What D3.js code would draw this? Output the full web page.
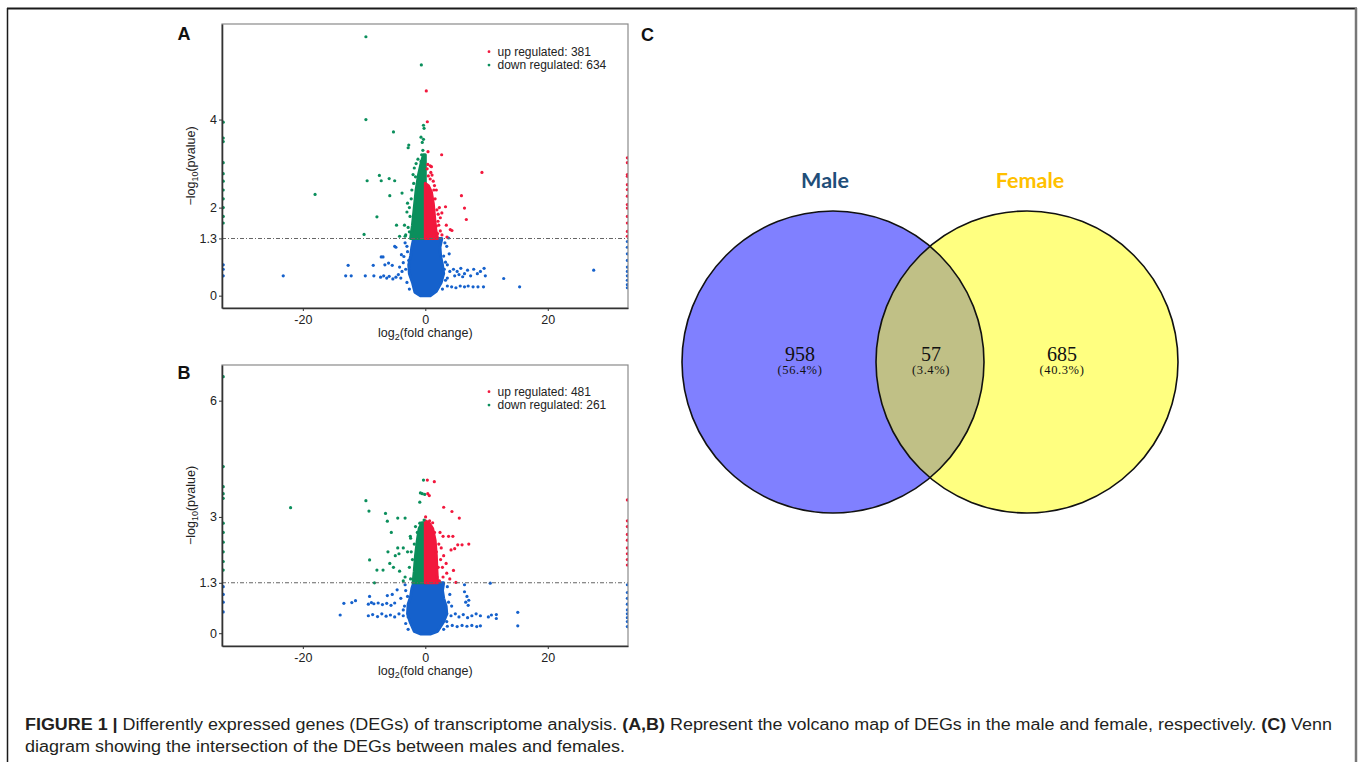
<!doctype html>
<html>
<head>
<meta charset="utf-8">
<title>Figure 1 - DEGs volcano plots and Venn diagram</title>
<script src="https://d3js.org/d3.v7.min.js"></script>
<style>
  body { margin: 0; background: #fff; }
  svg text { font-family: "Liberation Sans", Arial, Helvetica, sans-serif; }
</style>
</head>
<body>
<div id="plot"></div>
<script>
// ---- data ----
// panel A (male): scattered points [log2FC, -log10 p]
const upA = [[0.16,4.65],[0.33,3.95],[0.44,3.27],[2.67,3.2],[9.25,2.8],[0.4,2.98],[0.8,2.95],[1.0,2.93],[0.3,2.88],
  [0.5,2.72],[1.1,2.74],[0.8,2.65],[5.9,2.27],[6.4,1.99],[6.7,1.73],[3.3,2.02],[2.7,1.88],[2.45,1.77],[2.07,1.69],
  [1.8,1.58],[3.43,1.6],[4.08,1.5],[4.35,1.48],[2.45,1.47],[2.0,1.41],[3.54,1.33],[2.72,1.38],[1.6,2.2],[1.9,1.95],
  [1.4,2.4],[1.3,2.6],[0.9,2.8],[1.8,2.4],[2.2,1.6],[2.3,2.0],[1.5,2.5],[2.1,1.85],
  [33,3.13],[33,3.02],[33,2.75],[33,2.71],[33,2.52],[33,2.41],[33,2.26],[33,2.07],[33,1.99],[33,1.8],
  [33,1.65],[33,1.46],[33,1.35]];
const downA = [[-9.7,5.88],[-0.65,5.24],[-9.7,4.0],[-5.2,3.72],[-0.3,3.87],[-0.2,3.8],[-0.7,3.6],[-0.3,3.55],
  [-0.5,3.48],[-2.7,3.42],[-2.8,3.36],[-0.4,3.3],[-0.6,3.2],[-0.3,3.1],[-0.7,3.05],[-0.4,2.95],[-7.5,2.73],
  [-9.5,2.61],[-7.2,2.61],[-5.9,2.66],[-5.0,2.61],[-5.8,2.27],[-3.8,2.33],[-7.9,1.79],[-4.7,1.6],[-10,1.39],
  [-4.2,1.35],[-18,2.3],[-3.0,1.9],[-3.4,1.6],[-2.9,2.1],[-2.6,1.45],[-3.2,1.38],[-2.2,2.4],[-1.6,2.7],[-1.9,2.55],
  [-2.5,1.8],[-2.3,2.2],[-1.8,2.9],[-1.2,3.1],[-2.8,1.55],[-3.3,1.35],[-1.5,3.0],[-2.6,2.0],[-2.0,2.75],
  [-33,3.94],[-33,3.58],[-33,3.5],[-33,3.02],[-33,2.77],[-33,2.6],[-33,2.4],[-33,2.2],[-33,2.0],[-33,1.8],[-33,1.65]];
const otherA = [[-23.2,0.45],[-12.6,0.69],[-13.0,0.45],[-12.1,0.45],[-9.8,0.45],[-8.5,0.69],[-8.4,0.45],[-7.2,0.88],
  [-6.9,0.88],[-6.6,0.7],[-6.0,0.74],[-5.4,0.69],[-7.3,0.42],[-6.8,0.45],[-6.3,0.4],[-5.9,0.44],[-5.3,0.38],
  [-4.8,0.42],[-4.4,0.48],[-4.8,1.1],[-5.0,1.12],[-3.9,0.93],[-3.5,0.89],[-3.0,1.12],[-2.7,0.8],[-3.2,0.6],
  [-3.8,0.55],[12.8,0.39],[15.4,0.2],[27.5,0.58],[4.6,0.6],[5.2,0.55],[5.8,0.62],[6.4,0.5],[6.9,0.58],[7.4,0.45],
  [7.9,0.6],[8.5,0.5],[9.0,0.55],[9.6,0.62],[9.8,0.45],[4.8,0.45],[5.5,0.48],[6.1,0.43],[3.6,0.22],[4.3,0.2],
  [5.0,0.18],[5.7,0.22],[6.4,0.2],[7.0,0.22],[7.8,0.2],[8.6,0.2],[9.5,0.2],[3.5,1.12],[3.8,1.31],[3.0,0.9],
  [3.3,0.76],[3.1,0.6],[3.6,0.4],[-3.3,1.2],[-2.9,1.0],[-3.6,0.75],[-4.2,0.65],[3.2,1.2],[3.9,0.95],[3.6,0.7],
  [4.0,0.55],[-2.6,0.15],[2.8,0.15],[-3.0,0.3],[-4.0,0.4],[3.3,0.35],
  [-33,0.7],[-33,0.6],[-33,0.45],[33,1.23],[33,1.1],[33,0.95],[33,0.8],[33,0.65],
  [33,0.55],[33,0.45],[33,0.35],[33,0.25],[33,0.18]];
// outlines of the dense, solid-looking clouds
const coreOtherA = [[-1.9,1.3],[2.7,1.3],[2.4,1.1],[2.5,0.9],[2.8,0.7],[3.0,0.5],[2.6,0.3],[1.8,0.1],[0.8,0.0],
  [-0.8,0.0],[-1.7,0.08],[-2.1,0.3],[-2.6,0.5],[-2.7,0.7],[-2.4,0.9],[-2.2,1.1]];
const coreDownA = [[0,1.3],[-2.4,1.3],[-2.1,1.6],[-1.8,2.0],[-1.5,2.4],[-1.1,2.75],[-0.7,3.0],[-0.3,3.2],[0,3.2]];
const coreUpA = [[0,1.3],[2.0,1.3],[1.7,1.5],[1.5,1.8],[1.3,2.1],[1.0,2.35],[0.5,2.5],[0,2.55]];

// panel B (female)
const upB = [[0.33,3.95],[1.47,3.91],[0.4,3.6],[0.65,3.55],[3.0,3.25],[4.35,3.14],[5.55,2.97],[0.05,3.0],[0.7,2.9],
  [2.9,2.5],[3.8,2.5],[4.5,2.5],[5.3,2.28],[6.0,2.28],[7.1,2.3],[4.2,2.15],[4.8,2.18],[3.0,2.0],[3.4,1.8],[2.8,1.7],
  [3.5,1.55],[4.6,1.62],[2.9,1.45],[4.0,1.4],[5.0,1.31],[1.4,1.32],[1.9,1.45],[2.3,1.35],[2.2,2.3],[2.5,1.9],
  [1.8,2.1],[1.5,2.6],[2.4,2.6],[2.1,1.7],[1.2,2.85],[2.6,2.2],
  [33,3.44],[33,2.9],[33,2.75],[33,2.55],[33,2.4],[33,2.2],[33,2.05],[33,1.9],[33,1.76]];
const downB = [[-22.0,3.24],[-9.7,3.42],[-9.2,3.15],[-6.5,3.09],[-6.2,2.89],[-4.5,2.97],[-3.3,2.97],[-0.3,3.95],
  [-0.8,3.62],[-0.5,3.6],[-0.1,3.58],[-0.9,3.38],[-0.9,2.84],[-0.7,2.84],[-0.2,2.92],[-5.55,2.6],[-2.45,2.5],
  [-2.4,2.45],[-4.5,2.2],[-3.6,2.2],[-2.9,2.1],[-4.3,2.05],[-6.1,2.1],[-4.9,2.0],[-9.1,1.89],[-7.9,1.63],
  [-6.9,1.63],[-5.8,1.8],[-5.2,1.7],[-4.2,1.6],[-3.3,1.45],[-8.3,1.3],[-3.6,1.35],[-2.4,1.4],[-1.7,1.35],
  [-2.1,1.9],[-1.8,2.3],[-1.3,2.6],[-2.6,1.7],[-2.3,2.1],[-1.6,2.75],
  [-33,6.62],[-33,4.3],[-33,3.78],[-33,3.6],[-33,3.48],[-33,2.84],[-33,2.6],
  [-33,2.35],[-33,2.1],[-33,1.85],[-33,1.63]];
const otherB = [[-13.9,0.47],[-13.3,0.77],[-12.0,0.79],[-11.4,0.84],[-9.1,0.95],[-8.8,0.79],[-9.3,0.75],[-8.4,0.76],
  [-7.7,0.78],[-7.0,0.74],[-6.3,0.77],[-5.6,0.72],[-5.0,0.78],[-9.3,0.45],[-8.6,0.48],[-7.8,0.43],[-7.1,0.5],
  [-6.4,0.44],[-5.7,0.47],[-5.0,0.42],[-4.3,0.5],[-3.6,0.45],[-2.8,0.42],[-6.2,0.97],[-5.4,1.0],[-4.6,1.12],
  [-3.2,1.1],[-4.0,0.9],[-3.4,0.7],[6.4,1.25],[6.4,1.07],[6.6,0.8],[7.1,0.85],[6.8,0.95],[7.0,0.72],[3.5,0.5],
  [4.2,0.45],[4.9,0.5],[5.5,0.42],[6.2,0.48],[6.9,0.4],[7.6,0.45],[8.3,0.5],[9.0,0.45],[10.3,0.42],[10.8,0.47],
  [11.6,0.48],[11.6,0.38],[15.1,0.54],[15.1,0.19],[3.6,0.18],[4.4,0.2],[5.2,0.17],[6.0,0.2],[6.8,0.18],[7.6,0.2],
  [8.4,0.17],[9.0,0.19],[10.6,1.29],[3.6,1.2],[4.0,1.0],[3.8,0.8],[-2.9,0.95],[-3.3,1.25],[-3.6,0.6],[-3.2,0.25],
  [3.5,0.3],[4.3,0.7],[-2.8,0.1],[3.0,0.1],
  [-33,1.2],[-33,1.0],[-33,0.8],
  [-33,0.55],[33,1.25],[33,1.05],[33,0.9],[33,0.75],[33,0.6],[33,0.5],[33,0.4],[33,0.3],[33,0.17]];
const coreOtherB = [[-1.9,1.3],[3.0,1.3],[2.8,1.1],[3.0,0.9],[3.4,0.7],[3.5,0.5],[3.0,0.3],[2.0,0.05],[0.8,-0.02],
  [-0.8,-0.02],[-1.8,0.05],[-2.5,0.3],[-2.9,0.5],[-2.8,0.75],[-2.4,0.95],[-2.2,1.15]];
const coreDownB = [[0,1.3],[-2.0,1.3],[-1.8,1.6],[-1.6,2.0],[-1.3,2.4],[-1.0,2.7],[-0.5,2.85],[0,2.85]];
const coreUpB = [[0,1.3],[2.0,1.3],[1.9,1.6],[1.8,2.0],[1.6,2.4],[1.2,2.7],[0.6,2.85],[0,2.9]];

const legendA = ["up regulated: 381", "down regulated: 634"];
const legendB = ["up regulated: 481", "down regulated: 261"];
const xTicks = [-20, 0, 20];
const yTicksA = [0, 1.3, 2, 4];
const yTicksB = [0, 1.3, 3, 6];
const threshold = 1.3;

// venn
const vennNames = ["Male", "Female"];
const vennCounts = [958, 57, 685];
const vennPct = ["(56.4%)", "(3.4%)", "(40.3%)"];

const colUp = "#f2183d", colDown = "#0b8f5c", colOther = "#1561cc";

const svg = d3.select("#plot").append("svg")
  .attr("width", 1360).attr("height", 762);

// frame
svg.append("line").attr("x1", 7).attr("x2", 1357).attr("y1", 8.5).attr("y2", 8.5)
  .attr("stroke", "#1a1a1a").attr("stroke-width", 2);
svg.append("line").attr("x1", 7.5).attr("x2", 7.5).attr("y1", 8).attr("y2", 762)
  .attr("stroke", "#1a1a1a").attr("stroke-width", 1.5);
svg.append("line").attr("x1", 1356).attr("x2", 1356).attr("y1", 8).attr("y2", 762)
  .attr("stroke", "#777").attr("stroke-width", 2.5);

function volcano(cfg) {
  const x = d3.scaleLinear().domain([-33.2, 33.1]).range([cfg.left, cfg.left + 406]);
  const y = d3.scaleLinear().domain(cfg.yDomain).range([cfg.top + cfg.height, cfg.top]);
  const g = svg.append("g");

  g.append("clipPath").attr("id", "clip" + cfg.id)
    .append("rect").attr("x", cfg.left).attr("y", cfg.top).attr("width", 406).attr("height", cfg.height);

  const plot = g.append("g").attr("clip-path", "url(#clip" + cfg.id + ")");
  const line = d3.line().x(d => x(d[0])).y(d => y(d[1])).curve(d3.curveLinearClosed);

  // blue cloud, then green/red
  [[cfg.coreOther, colOther], [cfg.coreDown, colDown], [cfg.coreUp, colUp]].forEach(function(c) {
    plot.append("path").attr("d", line(c[0]))
      .attr("fill", c[1]).attr("stroke", c[1]).attr("stroke-width", 3).attr("stroke-linejoin", "round");
  });
  [[cfg.other, colOther], [cfg.down, colDown], [cfg.up, colUp]].forEach(function(s) {
    plot.selectAll(null).data(s[0]).enter().append("circle")
      .attr("cx", d => x(d[0])).attr("cy", d => y(d[1])).attr("r", 1.6)
      .attr("fill", s[1]);
  });

  // threshold
  g.append("line")
    .attr("x1", cfg.left).attr("x2", cfg.left + 406)
    .attr("y1", y(threshold)).attr("y2", y(threshold))
    .attr("stroke", "#666").attr("stroke-width", 1.1)
    .attr("stroke-dasharray", "4,2,1,2");

  // box
  g.append("rect").attr("x", cfg.left).attr("y", cfg.top).attr("width", 406).attr("height", cfg.height)
    .attr("fill", "none").attr("stroke", "#8a8a8a").attr("stroke-width", 1.2);

  const ax = g.append("g").attr("transform", "translate(0," + (cfg.top + cfg.height) + ")")
    .call(d3.axisBottom(x).tickValues(xTicks).tickSize(3).tickPadding(4.5).tickSizeOuter(0)
      .tickFormat(d => String(d)));
  const ay = g.append("g").attr("transform", "translate(" + cfg.left + ",0)")
    .call(d3.axisLeft(y).tickValues(cfg.yTicks).tickSize(3).tickPadding(2).tickSizeOuter(0)
      .tickFormat(d => String(d)));
  [ax, ay].forEach(function(a) {
    a.select(".domain").attr("stroke", "#333").attr("stroke-width", 1.6);
    a.selectAll(".tick line").attr("stroke", "#333");
    a.selectAll(".tick text").attr("fill", "#222").style("font-size", "12.5px")
      .style("font-family", "'Liberation Sans', Arial, sans-serif");
  });

  // axis titles
  const xt = g.append("text").attr("x", x(0)).attr("y", cfg.top + cfg.height + 28.5)
    .attr("text-anchor", "middle").attr("fill", "#222").style("font-size", "12.5px");
  xt.append("tspan").text("log");
  xt.append("tspan").attr("dy", 3).style("font-size", "9px").text("2");
  xt.append("tspan").attr("dy", -3).text("(fold change)");

  const yc = cfg.top + cfg.height / 2;
  const yt = g.append("text").attr("transform", "translate(195," + yc + ") rotate(-90)")
    .attr("text-anchor", "middle").attr("fill", "#222").style("font-size", "12.5px");
  yt.append("tspan").text("\u2212log");
  yt.append("tspan").attr("dy", 3).style("font-size", "9px").text("10");
  yt.append("tspan").attr("dy", -3).text("(pvalue)");

  // legend
  [colUp, colDown].forEach(function(c, i) {
    const ly = cfg.legendY + i * 13.4;
    g.append("circle").attr("cx", 489).attr("cy", ly).attr("r", 1.4).attr("fill", c);
    g.append("text").attr("x", 497.5).attr("y", ly + 4.3).attr("fill", "#222")
      .style("font-size", "12px").text(cfg.legend[i]);
  });

  // panel letter
  g.append("text").attr("x", 177.5).attr("y", cfg.letterY).text(cfg.id)
    .style("font-size", "18px").style("font-weight", "bold").attr("fill", "#111");
}

volcano({ id: "A", left: 222, top: 24, height: 284, yDomain: [-0.28, 6.17], yTicks: yTicksA,
  up: upA, down: downA, other: otherA, coreUp: coreUpA, coreDown: coreDownA, coreOther: coreOtherA,
  legend: legendA, legendY: 51.7, letterY: 39.5 });
volcano({ id: "B", left: 222, top: 365, height: 281, yDomain: [-0.33, 6.92], yTicks: yTicksB,
  up: upB, down: downB, other: otherB, coreUp: coreUpB, coreDown: coreDownB, coreOther: coreOtherB,
  legend: legendB, legendY: 391.7, letterY: 379 });

// ---- panel C: venn ----
const venn = svg.append("g");
venn.append("text").attr("x", 641).attr("y", 40.5).text("C")
  .style("font-size", "18px").style("font-weight", "bold").attr("fill", "#111");

const r = 151, cy = 362;
const cx = [833, 1027];
venn.append("clipPath").attr("id", "clipMale")
  .append("circle").attr("cx", cx[0]).attr("cy", cy).attr("r", r);
venn.append("circle").attr("cx", cx[0]).attr("cy", cy).attr("r", r).attr("fill", "#8080ff");
venn.append("circle").attr("cx", cx[1]).attr("cy", cy).attr("r", r).attr("fill", "#ffff80");
venn.append("circle").attr("cx", cx[1]).attr("cy", cy).attr("r", r).attr("fill", "#c0c086")
  .attr("clip-path", "url(#clipMale)");
cx.forEach(function(c) {
  venn.append("circle").attr("cx", c).attr("cy", cy).attr("r", r)
    .attr("fill", "none").attr("stroke", "#111").attr("stroke-width", 1.6);
});

const nameCol = ["#1f4e79", "#ffc000"];
const nameX = [825, 1030];
vennNames.forEach(function(n, i) {
  venn.append("text").attr("x", nameX[i]).attr("y", 187.5).attr("text-anchor", "middle")
    .attr("fill", nameCol[i]).style("font-family", "Lato, 'Open Sans', sans-serif")
    .style("font-weight", "bold").style("font-size", "21.5px").text(n);
});

const regionX = [800, 931, 1062];
vennCounts.forEach(function(v, i) {
  venn.append("text").attr("x", regionX[i]).attr("y", 360.5).attr("text-anchor", "middle")
    .attr("fill", "#111").style("font-family", "'Liberation Serif', 'DejaVu Serif', serif")
    .style("font-size", "20px").text(v);
  venn.append("text").attr("x", regionX[i]).attr("y", 373.5).attr("text-anchor", "middle")
    .attr("fill", "#111").style("font-family", "'Liberation Serif', 'DejaVu Serif', serif")
    .style("font-size", "12.5px").style("letter-spacing", "0.6px").text(vennPct[i]);
});

// ---- caption ----
const cap1 = svg.append("text").attr("x", 25).attr("y", 730).attr("fill", "#231f20")
  .style("font-size", "16px").attr("textLength", 1307).attr("lengthAdjust", "spacingAndGlyphs");
[["FIGURE 1 | ", true], ["Differently expressed genes (DEGs) of transcriptome analysis. ", false],
 ["(A,B)", true], [" Represent the volcano map of DEGs in the male and female, respectively. ", false],
 ["(C)", true], [" Venn", false]].forEach(function(p) {
  cap1.append("tspan").style("font-weight", p[1] ? "bold" : "normal").text(p[0]);
});
svg.append("text").attr("x", 25).attr("y", 752).attr("fill", "#231f20")
  .style("font-size", "16px").attr("textLength", 600).attr("lengthAdjust", "spacingAndGlyphs")
  .text("diagram showing the intersection of the DEGs between males and females.");
</script>
</body>
</html>
